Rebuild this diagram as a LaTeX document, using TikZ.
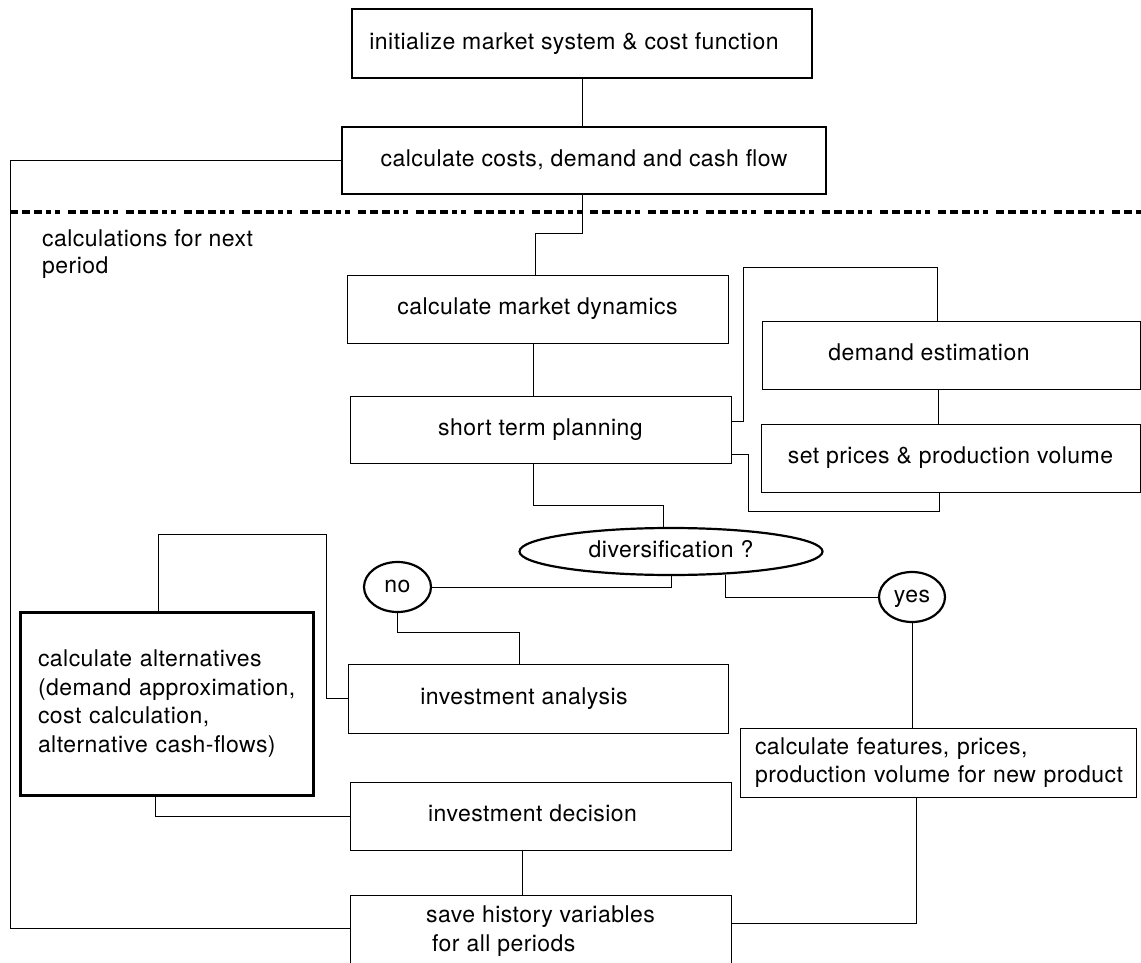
\documentclass[tikz,border=0pt]{standalone}
\usepackage{fontspec}
\setmainfont{TeX Gyre Heros}[LetterSpace=2]
\usetikzlibrary{shapes.geometric}
\begin{document}
\begin{tikzpicture}[x=1pt,y=-1pt,
  font=\fontsize{23}{28.5}\selectfont,
  box/.style={draw, line width=1pt, inner sep=0pt},
  oneline/.style={text height=16pt, text depth=4.5pt},
  heavybox/.style={box, oneline, line width=2pt},
  oval/.style={draw, ellipse, line width=2.2pt, inner sep=0pt, text height=16pt, text depth=4.5pt},
  conn/.style={line width=1pt},
  divider/.style={line width=3.5pt, dash pattern=on 8pt off 4pt on 8pt off 4pt on 8pt off 4pt on 5pt off 4pt on 5pt off 8pt}]
\useasboundingbox (0,0) rectangle (1141,963);
\fill[white] (0,0) rectangle (1141,963);

% boxes
\node[heavybox, minimum width=460pt, minimum height=69pt] (init) at (582,43.5) {\hspace*{-16pt}initialize market system \& cost function};
\node[heavybox, minimum width=484pt, minimum height=67pt] (calc) at (584,160.5) {calculate costs, demand and cash flow};
\node[anchor=north west, align=left, inner sep=0pt, font=\fontsize{23}{27}\selectfont] (next) at (42,229) {calculations for next\\period};
\node[box, oneline, minimum width=381pt, minimum height=68pt] (dyn) at (537.5,309) {calculate market dynamics};
\node[box, oneline, minimum width=381pt, minimum height=67pt] (short) at (540.5,429.5) {short term planning};
\node[box, oneline, minimum width=378pt, minimum height=68pt] (est) at (951,355) {\hspace*{-44pt}demand estimation};
\node[box, oneline, minimum width=379pt, minimum height=68pt] (prices) at (950.5,458) {set prices \& production volume};
\node[oval, minimum width=303pt, minimum height=47pt] (div) at (671,551.5) {diversification ?};
\node[oval, minimum width=67pt, minimum height=50pt] (no) at (397.5,587) {no};
\node[oval, minimum width=66pt, minimum height=50pt] (yes) at (912,597) {yes};
\node[box, oneline, minimum width=380pt, minimum height=69pt] (anal) at (538,698.5) {\hspace*{-28pt}investment analysis};
\node[box, line width=3pt, minimum width=293pt, minimum height=183pt, text width=262pt, inner xsep=15.5pt, align=left] (alt) at (166.5,703.5) {\hspace*{2.5pt}calculate alternatives\\\hspace*{2.5pt}(demand approximation,\\\hspace*{2.5pt}cost calculation,\\\hspace*{2.5pt}alternative cash-flows)};
\node[box, oneline, minimum width=381pt, minimum height=68pt] (dec) at (540.5,816) {\hspace*{-16pt}investment decision};
\node[box, minimum width=396pt, minimum height=69pt, text width=376pt, inner xsep=10pt, align=left] (feat) at (938,762.5) {\hspace*{5pt}calculate features, prices,\\\hspace*{5pt}production volume for new product};
\node[box, minimum width=381pt, minimum height=72pt, align=left] (save) at (540.5,931) {save history variables\\\hspace*{6pt}for all periods};

% divider
\draw[divider] (10,212) -- (1141,212);

% corner coordinates
\coordinate (loopL) at (10,160.5);
\coordinate (c1) at (937,267);
\coordinate (c2) at (939,511);
\coordinate (c3) at (158,534);

% connectors
\draw[conn] (init.south) -- (init.south |- calc.north);
\draw[conn] (calc.west) -- (loopL) |- ([yshift=3pt]save.west);
\draw[conn] ([xshift=-2pt]calc.south) -- ++(0,38) -| ([xshift=-2.5pt]dyn.north);
\draw[conn] ([xshift=-4.5pt]dyn.south) -- ++(0,52);
\draw[conn] ([xshift=-7.5pt]short.south) -- ++(0,42) -| ([xshift=-8pt]div.north);
\draw[conn] ([yshift=8.5pt]short.east) -- ++(12,0) |- (c1) -- ([xshift=-14pt]est.north);
\draw[conn] ([xshift=-13pt]est.south) -- ([xshift=-12.5pt]prices.north);
\draw[conn] ([yshift=-24.5pt]short.east) -- ++(17,0) |- (c2) -- ([xshift=-11.5pt]prices.south);
\draw[conn] (div.south) |- (no.east);
\draw[conn] (div.-23) |- (yes.west);
\draw[conn] (no.south) -- ++(0,19) -| ([xshift=-19pt]anal.north);
\draw[conn] (anal.west) -- ++(-21,0) |- (c3) -- ([xshift=-8.5pt]alt.north);
\draw[conn] ([xshift=-11.5pt]alt.south) |- (dec.west);
\draw[conn] ([xshift=-18.5pt]dec.south) -- ++(0,45);
\draw[conn] (yes.south) -- (yes.south |- feat.north);
\draw[conn] ([xshift=-22pt]feat.south) |- ([yshift=8pt]save.east);
\end{tikzpicture}
\end{document}
